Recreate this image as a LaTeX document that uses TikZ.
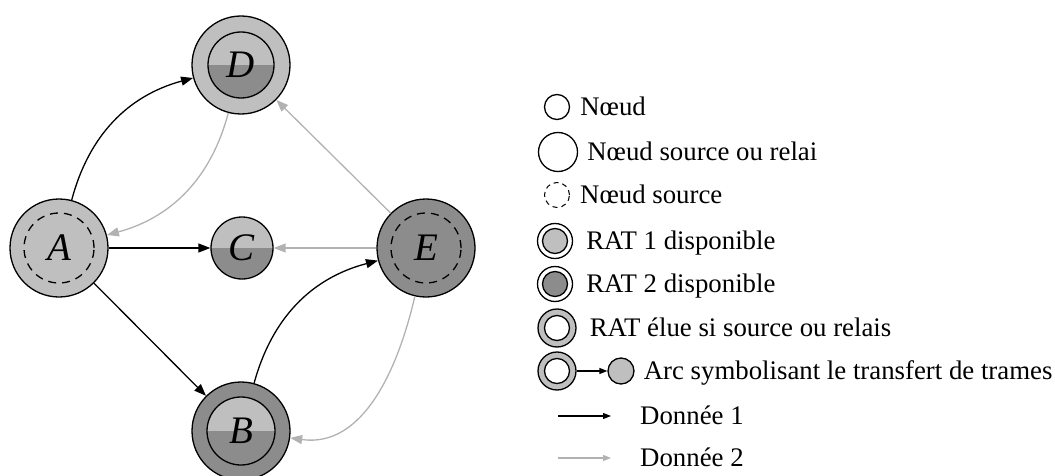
\documentclass[tikz,border=0pt]{standalone}
\usepackage{fontspec}
\setmainfont{Liberation Serif}
\usetikzlibrary{arrows.meta,positioning}
\definecolor{ratone}{gray}{0.75}
\definecolor{rattwo}{gray}{0.55}
\definecolor{donneegris}{gray}{0.70}
\tikzset{
    noeud/.style={
        circle,
        draw,
        line width=1.3pt,
        inner sep=0pt
    },
    moitie/.style={
        noeud,
        path picture={
            \fill[ratone] (path picture bounding box.north west) rectangle (path picture bounding box.east);
            \fill[rattwo] (path picture bounding box.west) rectangle (path picture bounding box.south east);
        }
    },
    pointille/.style={
        noeud,
        dash pattern=on 8pt off 6pt
    },
    lettre/.style={
        font=\fontsize{39}{41}\selectfont\itshape
    },
    legende/.style={
        inner sep=0pt,
        text height=17pt,
        text depth=0pt,
        font=\fontsize{26.8}{30}\selectfont
    },
    donneeun/.style={
        draw=black,
        line width=1.3pt,
        -{Triangle[length=12pt,width=9pt]}
    },
    donneedeux/.style={
        donneeun,
        draw=donneegris,
        -{Triangle[length=12pt,width=9pt,fill=donneegris]}
    },
    flechelegende/.style={
        line width=1.3pt,
        -{Triangle[length=8pt,width=6pt]}
    }
}
\begin{document}
\begin{tikzpicture}[x=1pt,y=1pt]
    \useasboundingbox (0,0) rectangle (1055,475);
    % graphe
    \node[noeud, fill=ratone, minimum size=98pt] (A) at (59,227) {};
    \node[pointille, minimum size=70pt, lettre] (Aint) at (A) {A};
    \node[noeud, fill=ratone, minimum size=98pt] (D) at (241,410) {};
    \node[moitie, minimum size=66pt, lettre] (Dint) at (D) {D};
    \node[moitie, minimum size=62pt, lettre] (C) at (242,227) {C};
    \node[noeud, fill=rattwo, minimum size=98pt] (B) at (241,44) {};
    \node[moitie, minimum size=68pt, lettre] (Bint) at (B) {B};
    \node[noeud, fill=rattwo, minimum size=98pt] (E) at (426,227) {};
    \node[pointille, minimum size=70pt, lettre] (Eint) at (E) {E};

    \draw[donneeun] (A) to[bend left=30] (D);
    \draw[donneedeux] (D) to[bend left=30] (A);
    \draw[donneeun] (A) -- (C);
    \draw[donneedeux] (E) -- (C);
    \draw[donneeun] (A) -- (B);
    \draw[donneeun] (B) to[bend left=30] (E);
    \draw[donneedeux] (E) -- (D);
    \draw[donneedeux] (E) to[out=257,in=-8] (B);

    % legende
    \node[noeud, minimum size=25pt] (l1) at (557,368) {};
    \node[legende, right=10pt of l1] (t1) {Nœud};
    \node[noeud, minimum size=39pt] (l2) at (558,323) {};
    \node[legende, right=9pt of l2] (t2) {Nœud source ou relai};
    \node[pointille, line width=1pt, dash pattern=on 5pt off 4pt, minimum size=25pt] (l3) at (557,280) {};
    \node[legende, right=10pt of l3] (t3) {Nœud source};
    \node[noeud, minimum size=35pt] (l4) at (555,234) {};
    \node[noeud, fill=ratone, minimum size=25pt] (l4int) at (l4) {};
    \node[legende, right=13pt of l4] (t4) {RAT 1 disponible};
    \node[noeud, minimum size=35pt] (l5) at (555,191) {};
    \node[noeud, fill=rattwo, minimum size=25pt] (l5int) at (l5) {};
    \node[legende, right=13pt of l5] (t5) {RAT 2 disponible};
    \node[noeud, fill=ratone, minimum size=38pt] (l6) at (557,147) {};
    \node[noeud, fill=white, minimum size=25pt] (l6int) at (l6) {};
    \node[legende, right=13pt of l6] (t6) {RAT élue si source ou relais};
    \node[noeud, fill=ratone, minimum size=38pt] (l7) at (557,104) {};
    \node[noeud, fill=white, minimum size=25pt] (l7int) at (l7) {};
    \node[noeud, fill=ratone, minimum size=26pt] (l7b) at (621,104) {};
    \draw[flechelegende] (l7) -- (l7b);
    \node[legende, right=9pt of l7b] (t7) {Arc symbolisant le transfert de trames};
    \coordinate (d1a) at (558,59);
    \coordinate (d1b) at (611,59);
    \draw[flechelegende] (d1a) -- (d1b);
    \node[legende, anchor=west] (t8) at (640,59) {Donnée 1};
    \coordinate (d2a) at (558,17);
    \coordinate (d2b) at (611,17);
    \draw[flechelegende, draw=donneegris, -{Triangle[length=8pt,width=6pt,fill=donneegris]}] (d2a) -- (d2b);
    \node[legende, anchor=west] (t9) at (640,17) {Donnée 2};
\end{tikzpicture}
\end{document}
